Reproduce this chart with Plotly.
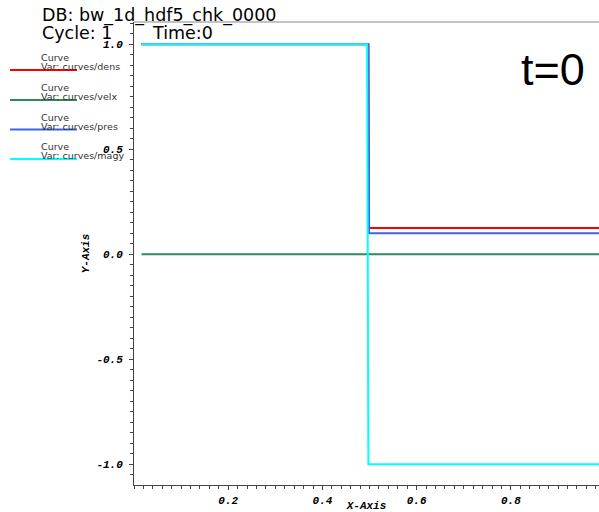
import plotly.graph_objects as go

# ---- data ----
dens_x = [0.016, 0.4975, 0.4990, 1.0]
dens_y = [1.0, 1.0, 0.125, 0.125]
velx_x = [0.016, 1.0]
velx_y = [0.0, 0.0]
pres_x = [0.016, 0.4975, 0.4990, 1.0]
pres_y = [1.0, 1.0, 0.1, 0.1]
magy_x = [0.016, 0.4948, 0.4975, 1.0]
magy_y = [1.0, 1.0, -1.0, -1.0]

series_names = ["curves/dens", "curves/velx", "curves/pres", "curves/magy"]
series_colors = ["#ff0000", "#2e8b57", "#3a66e6", "#00ffff"]

x_tickvals = [0.2, 0.4, 0.6, 0.8]
x_ticktext = ["0.2", "0.4", "0.6", "0.8"]
y_tickvals = [-1.0, -0.5, 0.0, 0.5, 1.0]
y_ticktext = ["-1.0", "-0.5", "0.0", "0.5", "1.0"]

W, H = 599, 512
ML, MR, MT, MB = 134, 0, 22, 27
PW, PH = W - ML - MR, H - MT - MB


def px(xp):
    return (xp - ML) / PW


def py(yp):
    return (H - MB - yp) / PH


fig = go.Figure()
for xs, ys, name, col in zip([dens_x, velx_x, pres_x, magy_x],
                             [dens_y, velx_y, pres_y, magy_y],
                             series_names, series_colors):
    fig.add_trace(go.Scatter(x=xs, y=ys, mode="lines", name=name,
                             line=dict(color=col, width=2), showlegend=False))

tickfont = dict(family="Liberation Mono", size=11, color="black", weight="bold", style="italic")

fig.update_layout(
    width=W, height=H,
    margin=dict(l=ML, r=MR, t=MT, b=MB, pad=0),
    plot_bgcolor="white", paper_bgcolor="white",
    xaxis=dict(range=[0.0, 0.987], showgrid=False, zeroline=False, automargin=False,
               showline=True, linecolor="#444", linewidth=1,
               ticks="outside", ticklen=4, tickcolor="#444",
               tickmode="array", tickvals=x_tickvals, ticktext=x_ticktext,
               minor=dict(ticks="outside", ticklen=3, tickcolor="#444", tick0=0, dtick=0.02),
               tickfont=tickfont, ticklabelstandoff=1,
               title=dict(text="X-Axis", font=tickfont, standoff=2)),
    yaxis=dict(range=[-1.099, 1.106], showgrid=False, zeroline=False, automargin=False,
               showline=True, linecolor="#444", linewidth=1,
               ticks="outside", ticklen=4, tickcolor="#444",
               tickmode="array", tickvals=y_tickvals, ticktext=y_ticktext,
               minor=dict(ticks="outside", ticklen=3, tickcolor="#444", tick0=0, dtick=0.05),
               tickfont=tickfont, ticklabelstandoff=4,
               title=dict(text="Y-Axis", font=tickfont, standoff=4)),
)

# top border of the viewport
fig.add_shape(type="line", xref="paper", yref="paper", x0=0, x1=1, y0=1, y1=1,
              line=dict(color="#888", width=1))

ann = []
ann.append(dict(text="DB: bw_1d_hdf5_chk_0000", x=px(40), y=py(15), xanchor="left", yanchor="middle",
                font=dict(family="DejaVu Sans", size=17.5, color="black")))
ann.append(dict(text="Cycle: 1", x=px(40), y=py(33), xanchor="left", yanchor="middle",
                font=dict(family="DejaVu Sans", size=17.5, color="black")))
ann.append(dict(text="Time:0", x=px(150), y=py(33), xanchor="left", yanchor="middle",
                font=dict(family="DejaVu Sans", size=17.5, color="black")))
ann.append(dict(text="t=0", x=px(553), y=py(69), xanchor="center", yanchor="middle",
                font=dict(family="Liberation Sans", size=45, color="black")))

legend_line_y = [70, 100, 129.5, 159]
for name, col, ly in zip(series_names, series_colors, legend_line_y):
    fig.add_shape(type="line", xref="paper", yref="paper", x0=px(10), x1=px(77),
                  y0=py(ly), y1=py(ly), line=dict(color=col, width=2))
    ann.append(dict(text="Curve", x=px(39), y=py(ly - 12.5), xanchor="left", yanchor="middle",
                    font=dict(family="DejaVu Sans", size=9.5, color="#333")))
    ann.append(dict(text="Var: " + name, x=px(39), y=py(ly - 3.5), xanchor="left", yanchor="middle",
                    font=dict(family="DejaVu Sans", size=9.5, color="#333")))

for a in ann:
    a.update(xref="paper", yref="paper", showarrow=False)
fig.update_layout(annotations=ann)

fig.write_html("out.html")
